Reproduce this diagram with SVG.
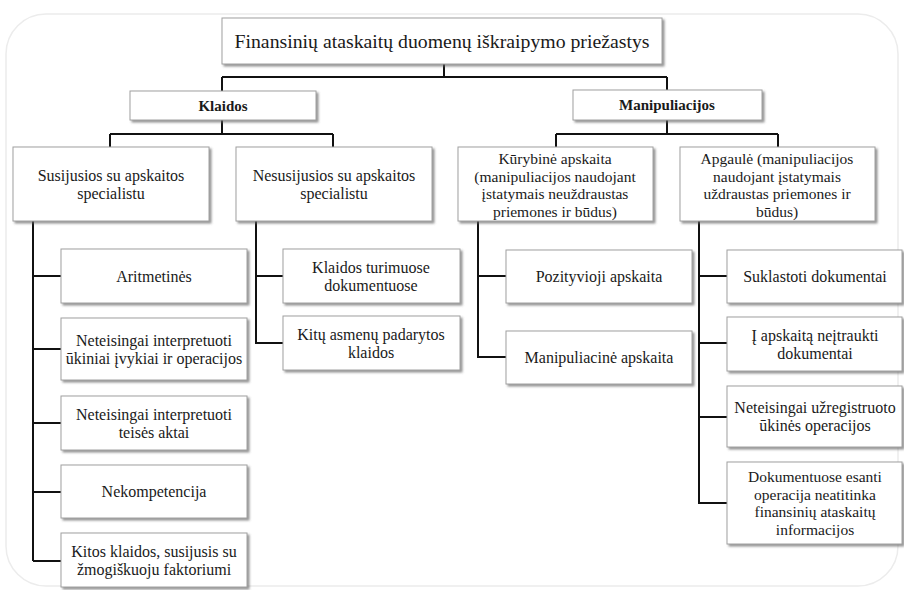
<svg xmlns="http://www.w3.org/2000/svg" width="904" height="590" viewBox="0 0 904 590" font-family="'Liberation Serif', 'Times New Roman', serif">
<defs>
<filter id="sh" x="-10%" y="-10%" width="130%" height="140%">
<feDropShadow dx="2" dy="2" stdDeviation="1.2" flood-color="#666" flood-opacity="0.7"/>
</filter>
<style>
.box{fill:#fff;stroke:#a0a0a0;stroke-width:1;filter:url(#sh)}
.t{font-family:'Liberation Serif','Times New Roman',serif;font-size:16px;fill:#1a1a1a;text-anchor:middle}
.s{font-size:15.5px}
.b{font-weight:bold;font-size:15px}
.ln{fill:none;stroke:#111;stroke-width:2}
</style>
</defs>
<rect x="0" y="0" width="904" height="590" fill="#fff"/>
<rect x="6" y="14" width="892" height="572" rx="40" fill="#fff" stroke="#ececec" stroke-width="1.5"/>
<g id="connectors">
<path class="ln" d="M444 64V77M222 77H667M222 77V92M667 77V90"/>
<path class="ln" d="M222 120V134M110 134H333M110 134V147M333 134V147"/>
<path class="ln" d="M667 120V134M556 134H778M556 134V147M778 134V147"/>
<path class="ln" d="M33 221V561M33 276H61M33 349H61M33 423H61M33 492H61M33 561H61"/>
<path class="ln" d="M256 221V343H283M256 276H283"/>
<path class="ln" d="M478 221V357H506M478 276H506"/>
<path class="ln" d="M699 221V503H727M699 276H727M699 343H727M699 417H727"/>
</g>
<g id="root"><rect class="box" x="222" y="18" width="440" height="46"/><text class="t" x="442" y="48" textLength="415" lengthAdjust="spacingAndGlyphs" style="font-size:19px">Finansinių ataskaitų duomenų  iškraipymo priežastys</text></g>
<g id="klaidos"><rect class="box" x="130" y="91" width="186" height="29"/><text class="t b" x="223" y="111">Klaidos</text></g>
<g id="manipuliacijos"><rect class="box" x="573" y="90" width="189" height="30"/><text class="t b" x="667" y="110">Manipuliacijos</text></g>
<g id="susijusios"><rect class="box" x="13" y="147" width="196" height="74"/><text class="t" x="111" y="180.5">Susijusios su apskaitos</text><text class="t" x="111" y="198.5">specialistu</text></g>
<g id="nesusijusios"><rect class="box" x="236" y="147" width="196" height="74"/><text class="t" x="334" y="180.5">Nesusijusios su apskaitos</text><text class="t" x="334" y="198.5">specialistu</text></g>
<g id="kurybine"><rect class="box" x="458" y="147" width="195" height="74"/><text class="t s" x="555" y="164">Kūrybinė apskaita</text><text class="t s" x="555" y="181.5">(manipuliacijos naudojant</text><text class="t s" x="555" y="199">įstatymais neuždraustas</text><text class="t s" x="555" y="216.5">priemones ir būdus)</text></g>
<g id="apgaule"><rect class="box" x="680" y="147" width="195" height="74"/><text class="t s" x="777" y="164">Apgaulė  (manipuliacijos</text><text class="t s" x="777" y="181.5">naudojant įstatymais</text><text class="t s" x="777" y="199">uždraustas priemones ir</text><text class="t s" x="777" y="216.5">būdus)</text></g>
<g id="aritmetines"><rect class="box" x="61" y="249" width="186" height="54"/><text class="t" x="154" y="281.5">Aritmetinės</text></g>
<g id="ukiniai"><rect class="box" x="61" y="318" width="186" height="62"/><text class="t" x="154" y="345.5">Neteisingai interpretuoti</text><text class="t" x="154" y="363.5">ūkiniai įvykiai  ir operacijos</text></g>
<g id="teises"><rect class="box" x="61" y="396" width="186" height="54"/><text class="t" x="154" y="419.5">Neteisingai interpretuoti</text><text class="t" x="154" y="437.5">teisės aktai</text></g>
<g id="nekompetencija"><rect class="box" x="61" y="465" width="186" height="53"/><text class="t" x="154" y="497">Nekompetencija</text></g>
<g id="kitos"><rect class="box" x="61" y="533" width="186" height="54"/><text class="t" x="154" y="556.5">Kitos klaidos, susijusis su</text><text class="t" x="154" y="574.5">žmogiškuoju faktoriumi</text></g>
<g id="turimuose"><rect class="box" x="283" y="249" width="177" height="54"/><text class="t" x="371" y="272.5">Klaidos turimuose</text><text class="t" x="371" y="290.5">dokumentuose</text></g>
<g id="kitu"><rect class="box" x="283" y="316" width="177" height="54"/><text class="t" x="371" y="339.5">Kitų asmenų padarytos</text><text class="t" x="371" y="357.5">klaidos</text></g>
<g id="pozityvioji"><rect class="box" x="506" y="250" width="186" height="53"/><text class="t" x="599" y="282">Pozityvioji apskaita</text></g>
<g id="manipuliacine"><rect class="box" x="506" y="331" width="186" height="53"/><text class="t" x="599" y="363">Manipuliacinė apskaita</text></g>
<g id="suklastoti"><rect class="box" x="727" y="250" width="175" height="53"/><text class="t" x="815" y="282">Suklastoti dokumentai</text></g>
<g id="neitraukti"><rect class="box" x="727" y="317" width="175" height="54"/><text class="t" x="815" y="340.5">Į apskaitą neįtraukti</text><text class="t" x="815" y="358.5">dokumentai</text></g>
<g id="uzregistruoto"><rect class="box" x="727" y="386" width="175" height="61"/><text class="t" x="815" y="413">Neteisingai užregistruoto</text><text class="t" x="815" y="431">ūkinės operacijos</text></g>
<g id="dokumentuose"><rect class="box" x="727" y="462" width="175" height="82"/><text class="t s" x="815" y="482">Dokumentuose esanti</text><text class="t s" x="815" y="499.5">operacija neatitinka</text><text class="t s" x="815" y="517">finansinių ataskaitų</text><text class="t s" x="815" y="534.5">informacijos</text></g>
</svg>
